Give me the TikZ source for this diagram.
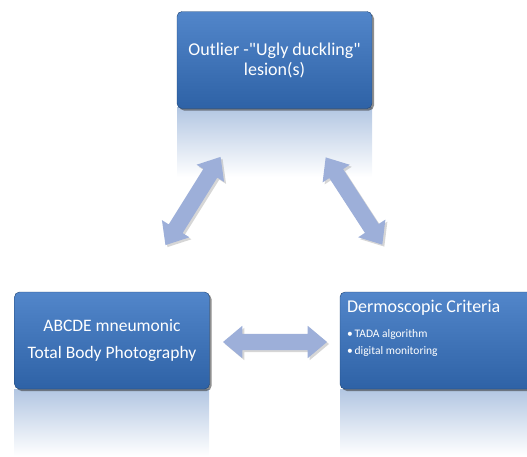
\documentclass[tikz,border=0pt]{standalone}
\usepackage{fontspec}
\setmainfont{Carlito}
\usetikzlibrary{shapes.arrows,shadows,positioning}
\definecolor{boxtop}{RGB}{82,134,202}
\definecolor{boxbot}{RGB}{46,98,166}
\definecolor{glass}{RGB}{178,198,226}
\definecolor{arrlight}{RGB}{168,186,226}
\definecolor{arrdark}{RGB}{132,150,196}
\begin{document}
\begin{tikzpicture}[x=1pt,y=-1pt,
    box/.style={rounded corners=5pt,top color=boxtop,bottom color=boxbot,draw=boxbot!70!black,
      drop shadow={shadow xshift=2pt,shadow yshift=-2pt,fill=black!80,opacity=0.55},
      minimum width=195pt,minimum height=97pt,inner sep=0pt,
      text=white,align=center,font=\fontsize{17.5}{27}\selectfont},
    mirror/.style={top color=glass,bottom color=white,draw=none},
    dblarrow/.style={double arrow,minimum height=104pt,inner xsep=0pt,inner ysep=8pt,
      double arrow head extend=8pt,double arrow tip angle=80,fill=arrlight!70!arrdark,
      drop shadow={shadow xshift=2pt,shadow yshift=-2pt,fill=black!40,opacity=0.4}}]
    \useasboundingbox (0,0) rectangle (527,456);
    \clip (0,0) rectangle (527,456);
    % Outlier box
    \fill[mirror] (177,107) rectangle ++(195,70);
    \node[box,font=\fontsize{18}{20}\selectfont] (ugly) at (274.5,60)
        {Outlier -\textquotedbl Ugly duckling\textquotedbl\\lesion(s)};
    % ABCDE box
    \fill[mirror] (14,389) rectangle ++(195,67);
    \node[box] (abcde) at (112,340.5) {ABCDE mneumonic\\Total Body Photography};
    % Dermoscopic box
    \fill[mirror] (340,389) rectangle ++(195,67);
    \node[box] (derm) at (437.5,340.5) {};
    \node[anchor=north west,text=white,align=left,inner sep=0pt,font=\fontsize{11.5}{17}\selectfont]
        (dermtext) at ([xshift=7pt,yshift=-8pt]derm.north west)
        {{\fontsize{18}{20}\selectfont Dermoscopic Criteria}\\[8pt]
         \textbullet\,TADA algorithm\\ \textbullet\,digital monitoring};
    % Arrows
    \node[dblarrow,rotate=58] (leftarr) at (193,201) {};
    \node[dblarrow,rotate=-57] (rightarr) at (354,201) {};
    \node[dblarrow] (midarr) at (275,342) {};
\end{tikzpicture}
\end{document}
